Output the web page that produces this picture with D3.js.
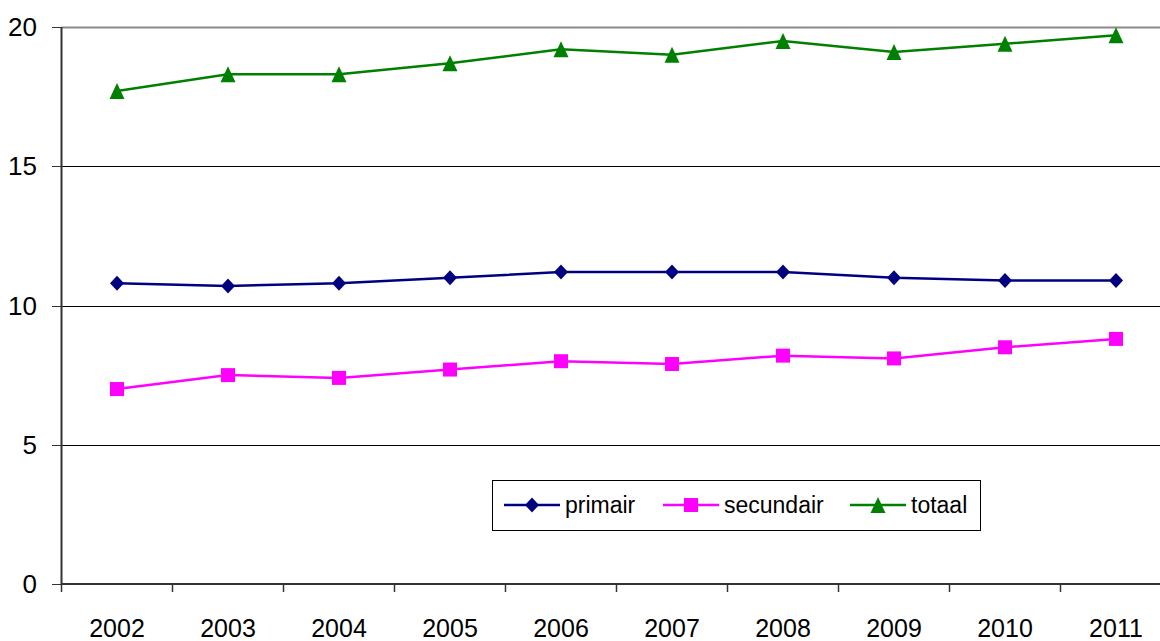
<!DOCTYPE html>
<html>
<head>
<meta charset="utf-8">
<script src="https://cdn.jsdelivr.net/npm/d3@7"></script>
<style>
  html, body { margin: 0; padding: 0; background: #fff; }
  svg { display: block; font-family: "Liberation Sans", Arial, sans-serif; }
</style>
</head>
<body>
<svg id="chart" width="1160" height="641"></svg>
<script>
const years = ["2002","2003","2004","2005","2006","2007","2008","2009","2010","2011"];
const primair   = [10.8, 10.7, 10.8, 11.0, 11.2, 11.2, 11.2, 11.0, 10.9, 10.9];
const secundair = [7.0, 7.5, 7.4, 7.7, 8.0, 7.9, 8.2, 8.1, 8.5, 8.8];
const totaal    = [17.7, 18.3, 18.3, 18.7, 19.2, 19.0, 19.5, 19.1, 19.4, 19.7];
const yTicks = [0, 5, 10, 15, 20];
const seriesNames = ["primair", "secundair", "totaal"];
const seriesColors = ["#000080", "#FF00FF", "#008000"];
const seriesShapes = ["diamond", "square", "triangle"];

(function () {
const svg = d3.select("#chart");
const plotLeft = 61.5, plotTop = 27, plotBottom = 584, bandRight = 1171.5, clipRight = 1160;

const x = d3.scaleBand().domain(years).range([plotLeft, bandRight]).padding(0);
const y = d3.scaleLinear().domain([0, 20]).range([plotBottom, plotTop]);

// gridlines
svg.append("g").selectAll("line").data(yTicks.filter(d => d > 0)).join("line")
  .attr("x1", plotLeft).attr("x2", clipRight)
  .attr("y1", d => Math.round(y(d)) + 0.5).attr("y2", d => Math.round(y(d)) + 0.5)
  .attr("stroke", d => d === 20 ? "#8a8a8a" : "#000")
  .attr("stroke-width", d => d === 20 ? 2 : 1);

// y axis
const yAxis = svg.append("g");
yAxis.append("line").attr("x1", plotLeft).attr("x2", plotLeft).attr("y1", plotTop).attr("y2", plotBottom)
  .attr("stroke", "#333").attr("stroke-width", 2);
yAxis.selectAll("line.tk").data(yTicks).join("line").attr("class", "tk")
  .attr("x1", 52).attr("x2", plotLeft)
  .attr("y1", d => Math.round(y(d)) + 0.5).attr("y2", d => Math.round(y(d)) + 0.5)
  .attr("stroke", "#333").attr("stroke-width", 1);
yAxis.selectAll("text").data(yTicks).join("text")
  .attr("x", 37).attr("y", d => y(d) + 9)
  .attr("text-anchor", "end").attr("font-size", 26).attr("fill", "#000")
  .text(d => d);

// x axis
const xAxis = svg.append("g");
xAxis.append("line").attr("x1", plotLeft).attr("x2", clipRight).attr("y1", plotBottom).attr("y2", plotBottom)
  .attr("stroke", "#333").attr("stroke-width", 2);
const tickPos = years.map(d => x(d));
xAxis.selectAll("line.tk").data(tickPos).join("line").attr("class", "tk")
  .attr("x1", d => d).attr("x2", d => d).attr("y1", plotBottom).attr("y2", 592)
  .attr("stroke", "#333").attr("stroke-width", 1.5);
xAxis.selectAll("text").data(years).join("text")
  .attr("x", d => x(d) + x.bandwidth() / 2).attr("y", 637)
  .attr("text-anchor", "middle").attr("font-size", 25).attr("fill", "#000")
  .text(d => d);

function markerPath(shape) {
  if (shape === "diamond") return "M0,-7.5L7,0L0,7.5L-7,0Z";
  if (shape === "square") return "M-7,-7H7V7H-7Z";
  return "M0,-8L7.5,8H-7.5Z";
}

const allSeries = [primair, secundair, totaal];
const line = d3.line().x((d, i) => x(years[i]) + x.bandwidth() / 2).y(d => y(d));

allSeries.forEach((vals, si) => {
  const g = svg.append("g");
  g.append("path").datum(vals).attr("d", line)
    .attr("fill", "none").attr("stroke", seriesColors[si]).attr("stroke-width", 2.5);
  g.selectAll("path.m").data(vals).join("path").attr("class", "m")
    .attr("transform", (d, i) => `translate(${x(years[i]) + x.bandwidth() / 2},${y(d)})`)
    .attr("d", markerPath(seriesShapes[si]))
    .attr("fill", seriesColors[si]);
});

// legend
const lg = svg.append("g");
lg.append("rect").attr("x", 492.5).attr("y", 480.5).attr("width", 488).attr("height", 50)
  .attr("fill", "#fff").attr("stroke", "#000").attr("stroke-width", 1);
const legendX = [504, 663, 850];
seriesNames.forEach((name, i) => {
  const lx = legendX[i];
  lg.append("line").attr("x1", lx).attr("x2", lx + 56).attr("y1", 505).attr("y2", 505)
    .attr("stroke", seriesColors[i]).attr("stroke-width", 2.5);
  lg.append("path").attr("transform", `translate(${lx + 28},505)`)
    .attr("d", markerPath(seriesShapes[i])).attr("fill", seriesColors[i]);
  lg.append("text").attr("x", lx + 61).attr("y", 513).attr("font-size", 23).attr("fill", "#000")
    .text(name);
});
})();
</script>
</body>
</html>
